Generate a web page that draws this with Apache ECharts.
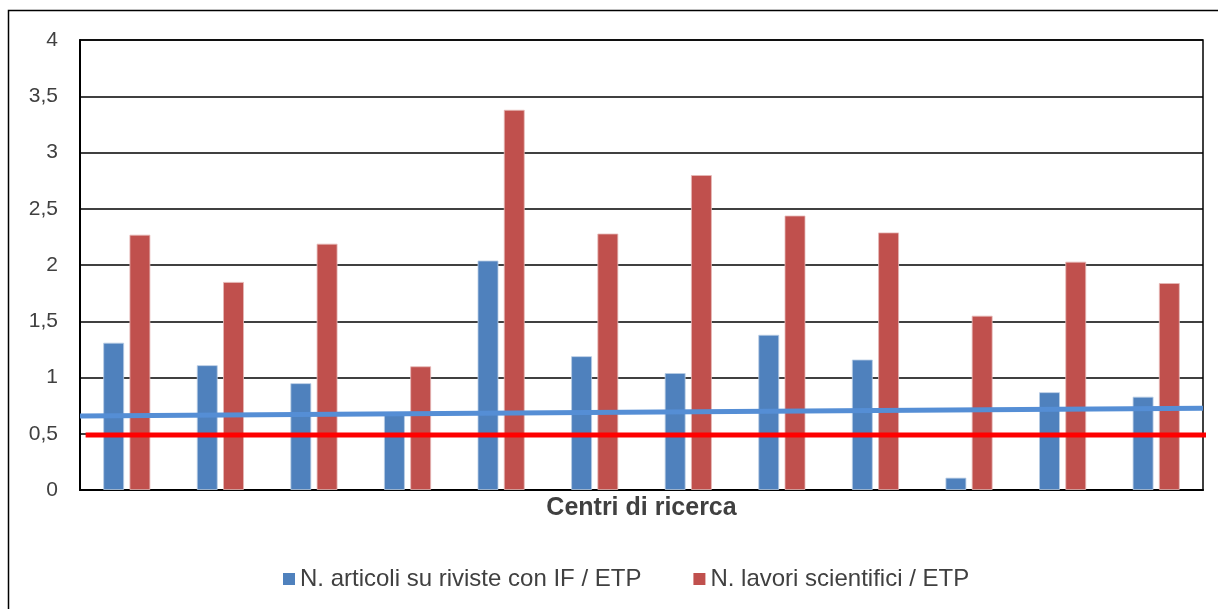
<!DOCTYPE html>
<html>
<head>
<meta charset="utf-8">
<script src="https://cdn.jsdelivr.net/npm/echarts@6/dist/echarts.min.js"></script>
<style>
html,body{margin:0;padding:0;background:#fff;}
#chart{width:1218px;height:609px;}
</style>
</head>
<body>
<div id="chart"></div>
<script>
const categories = ['1','2','3','4','5','6','7','8','9','10','11','12'];
const seriesNames = ['N. articoli su riviste con IF / ETP', 'N. lavori scientifici / ETP'];
const articoliIF = [1.31, 1.11, 0.95, 0.69, 2.04, 1.19, 1.04, 1.38, 1.16, 0.11, 0.87, 0.83];
const lavori = [2.27, 1.85, 2.19, 1.10, 3.38, 2.28, 2.80, 2.44, 2.29, 1.55, 2.03, 1.84];
const trendEnds = [0.658, 0.727];
const refLine = 0.49;
const axisTitle = 'Centri di ricerca';

const chart = echarts.init(document.getElementById('chart'), null, {renderer: 'canvas'});
const font = 'Liberation Sans, Arial, sans-serif';
chart.setOption({
  animation: false,
  textStyle: {fontFamily: font},
  graphic: [{
    type: 'rect', z: -10, silent: true,
    shape: {x: 8.5, y: 10.5, width: 1400, height: 800},
    style: {fill: 'none', stroke: '#000', lineWidth: 1.5}
  }],
  grid: {left: 80, right: 15, top: 40, bottom: 119, show: true, borderColor: '#000', borderWidth: 1.5, backgroundColor: 'transparent'},
  legend: {
    top: 567, left: 283, padding: 0,
    icon: 'rect', itemWidth: 12, itemHeight: 12, itemGap: 52,
    itemStyle: {borderWidth: 0},
    textStyle: {fontSize: 24, color: '#404040', fontFamily: font},
    data: seriesNames
  },
  xAxis: [{
    type: 'category', data: categories,
    axisLine: {show: true, lineStyle: {color: '#000', width: 2}},
    axisTick: {show: false}, axisLabel: {show: false},
    name: axisTitle, nameLocation: 'middle', nameGap: 6,
    nameTextStyle: {fontSize: 25, fontWeight: 'bold', color: '#404040', fontFamily: font}
  }, {
    type: 'value', min: 0, max: 1, show: false
  }],
  yAxis: {
    type: 'value', min: 0, max: 4, interval: 0.5,
    axisLine: {show: true, lineStyle: {color: '#000', width: 2}},
    axisTick: {show: false},
    axisLabel: {fontSize: 21, color: '#404040', margin: 22, formatter: v => String(v).replace('.', ',')},
    splitLine: {lineStyle: {color: '#000', width: 1.5}}
  },
  series: [{
    name: seriesNames[0], type: 'bar', data: articoliIF,
    barWidth: 21, barGap: '25%',
    itemStyle: {color: '#4F81BD', borderColor: 'rgba(185,205,229,0.8)', borderWidth: 1}
  }, {
    name: seriesNames[1], type: 'bar', data: lavori,
    barWidth: 21, barGap: '25%',
    itemStyle: {color: '#C0504D', borderColor: 'rgba(230,185,184,0.8)', borderWidth: 1}
  }, {
    name: 'trend', type: 'line', xAxisIndex: 1, z: 5,
    data: [[0, trendEnds[0]], [1, trendEnds[1]]],
    symbol: 'none', clip: false,
    lineStyle: {color: '#558ED5', width: 5}
  }, {
    name: 'ref', type: 'line', xAxisIndex: 1, z: 6,
    data: [[0.005, refLine], [1.003, refLine]],
    symbol: 'none', clip: false,
    lineStyle: {color: '#FF0000', width: 5}
  }]
});
</script>
</body>
</html>
